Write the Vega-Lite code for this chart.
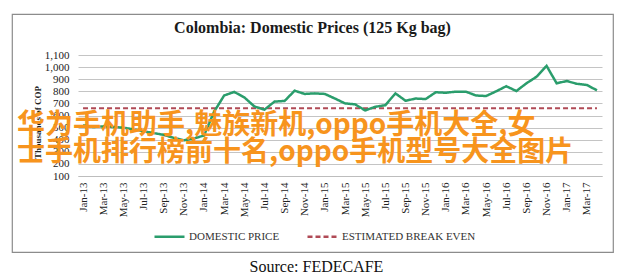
{
  "$schema": "https://vega.github.io/schema/vega-lite/v6.json",
  "width": 601,
  "height": 238,
  "autosize": {"type": "none"},
  "padding": {"left": 12, "top": 14, "right": 9, "bottom": 25},
  "background": "white",
  "config": {
    "view": {"stroke": "#8c8c8c", "strokeWidth": 1.2},
    "font": "Liberation Serif"
  },
  "title": {
    "text": "Colombia: Domestic Prices (125 Kg bag)",
    "font": "Liberation Serif",
    "fontSize": 16,
    "fontWeight": "bold",
    "color": "#1a1a1a",
    "anchor": "middle",
    "frame": "group",
    "baseline": "middle",
    "offset": -16,
    "dy": 14
  },
  "data": {
    "values": [
      {"m": "Jan-13", "p": 520, "b": 660},
      {"m": "Feb-13", "p": 505, "b": 660},
      {"m": "Mar-13", "p": 510, "b": 660},
      {"m": "Apr-13", "p": 505, "b": 660},
      {"m": "May-13", "p": 500, "b": 660},
      {"m": "Jun-13", "p": 485, "b": 660},
      {"m": "Jul-13", "p": 470, "b": 660},
      {"m": "Aug-13", "p": 455, "b": 660},
      {"m": "Sep-13", "p": 440, "b": 660},
      {"m": "Oct-13", "p": 415, "b": 660},
      {"m": "Nov-13", "p": 395, "b": 660},
      {"m": "Dec-13", "p": 410, "b": 660},
      {"m": "Jan-14", "p": 435, "b": 660},
      {"m": "Feb-14", "p": 630, "b": 660},
      {"m": "Mar-14", "p": 765, "b": 660},
      {"m": "Apr-14", "p": 795, "b": 660},
      {"m": "May-14", "p": 750, "b": 660},
      {"m": "Jun-14", "p": 675, "b": 660},
      {"m": "Jul-14", "p": 648, "b": 660},
      {"m": "Aug-14", "p": 715, "b": 660},
      {"m": "Sep-14", "p": 720, "b": 660},
      {"m": "Oct-14", "p": 805, "b": 660},
      {"m": "Nov-14", "p": 778, "b": 660},
      {"m": "Dec-14", "p": 783, "b": 660},
      {"m": "Jan-15", "p": 778, "b": 660},
      {"m": "Feb-15", "p": 740, "b": 660},
      {"m": "Mar-15", "p": 700, "b": 660},
      {"m": "Apr-15", "p": 692, "b": 660},
      {"m": "May-15", "p": 642, "b": 660},
      {"m": "Jun-15", "p": 672, "b": 660},
      {"m": "Jul-15", "p": 685, "b": 660},
      {"m": "Aug-15", "p": 783, "b": 660},
      {"m": "Sep-15", "p": 722, "b": 660},
      {"m": "Oct-15", "p": 740, "b": 660},
      {"m": "Nov-15", "p": 736, "b": 660},
      {"m": "Dec-15", "p": 792, "b": 660},
      {"m": "Jan-16", "p": 788, "b": 660},
      {"m": "Feb-16", "p": 797, "b": 660},
      {"m": "Mar-16", "p": 797, "b": 660},
      {"m": "Apr-16", "p": 765, "b": 660},
      {"m": "May-16", "p": 761, "b": 660},
      {"m": "Jun-16", "p": 800, "b": 660},
      {"m": "Jul-16", "p": 842, "b": 660},
      {"m": "Aug-16", "p": 802, "b": 660},
      {"m": "Sep-16", "p": 866, "b": 660},
      {"m": "Oct-16", "p": 920, "b": 660},
      {"m": "Nov-16", "p": 1010, "b": 660},
      {"m": "Dec-16", "p": 866, "b": 660},
      {"m": "Jan-17", "p": 885, "b": 660},
      {"m": "Feb-17", "p": 862, "b": 660},
      {"m": "Mar-17", "p": 852, "b": 660},
      {"m": "Apr-17", "p": 808, "b": 660}
    ]
  },
  "encoding": {
    "x": {
      "field": "m",
      "type": "ordinal",
      "scale": {
        "type": "point",
        "range": [66, 590],
        "padding": 0.5,
        "domain": ["Jan-13","Feb-13","Mar-13","Apr-13","May-13","Jun-13","Jul-13","Aug-13","Sep-13","Oct-13","Nov-13","Dec-13","Jan-14","Feb-14","Mar-14","Apr-14","May-14","Jun-14","Jul-14","Aug-14","Sep-14","Oct-14","Nov-14","Dec-14","Jan-15","Feb-15","Mar-15","Apr-15","May-15","Jun-15","Jul-15","Aug-15","Sep-15","Oct-15","Nov-15","Dec-15","Jan-16","Feb-16","Mar-16","Apr-16","May-16","Jun-16","Jul-16","Aug-16","Sep-16","Oct-16","Nov-16","Dec-16","Jan-17","Feb-17","Mar-17","Apr-17"]
      },
      "axis": {
        "orient": "bottom",
        "offset": -76,
        "values": ["Jan-13","Mar-13","May-13","Jul-13","Sep-13","Nov-13","Jan-14","Mar-14","May-14","Jul-14","Sep-14","Nov-14","Jan-15","Mar-15","May-15","Jul-15","Sep-15","Nov-15","Jan-16","Mar-16","May-16","Jul-16","Sep-16","Nov-16","Jan-17","Mar-17"],
        "labelAngle": -90,
        "labelPadding": 6,
        "labelFont": "Liberation Serif",
        "labelFontSize": 11,
        "labelColor": "#222222",
        "ticks": false,
        "grid": false,
        "domain": true,
        "domainColor": "#bdbdbd",
        "domainWidth": 1,
        "title": "Source: FEDECAFE",
        "titleFont": "Liberation Serif",
        "titleFontSize": 16,
        "titleFontWeight": "normal",
        "titleColor": "#111111",
        "titleX": 304,
        "titleY": 90,
        "titleAlign": "center",
        "titleBaseline": "middle",
        "titleAngle": 0
      }
    },
    "y": {
      "type": "quantitative",
      "scale": {"domain": [100, 1100], "range": [162, 41], "nice": false, "zero": false},
      "axis": {
        "orient": "left",
        "offset": -66,
        "values": [100, 200, 300, 400, 500, 600, 700, 800, 900, 1000, 1100],
        "format": ",d",
        "labelFont": "Liberation Serif",
        "labelFontSize": 11,
        "labelColor": "#222222",
        "labelPadding": 9,
        "ticks": false,
        "domain": false,
        "grid": true,
        "gridColor": "#c4c4c4",
        "gridWidth": 1,
        "title": "Thousands of COP",
        "titleFont": "Liberation Serif",
        "titleFontSize": 9,
        "titleFontWeight": "bold",
        "titleColor": "#222222",
        "titleX": -41,
        "titleY": 108,
        "titleAngle": -90,
        "titleAlign": "center",
        "titleBaseline": "middle"
      }
    }
  },
  "layer": [
    {
      "mark": {"type": "line", "strokeWidth": 2},
      "encoding": {
        "y": {"field": "b"},
        "color": {
          "datum": "ESTIMATED BREAK EVEN",
          "scale": {"domain": ["DOMESTIC PRICE", "ESTIMATED BREAK EVEN"], "range": ["#2a9d6c", "#b04a56"]},
          "legend": {
            "orient": "none",
            "legendX": 141,
            "legendY": 206,
            "direction": "horizontal",
            "title": null,
            "symbolType": "stroke",
            "symbolSize": 900,
            "symbolStrokeWidth": 2.5,
            "labelFont": "Liberation Serif",
            "labelFontSize": 11,
            "labelColor": "#333333",
            "labelOffset": 3,
            "columnPadding": 22,
            "labelLimit": 300
          }
        },
        "strokeDash": {
          "datum": "ESTIMATED BREAK EVEN",
          "scale": {"domain": ["DOMESTIC PRICE", "ESTIMATED BREAK EVEN"], "range": [[1, 0], [5, 3]]},
          "legend": null
        }
      }
    },
    {
      "mark": {"type": "line", "strokeWidth": 2.5},
      "encoding": {
        "y": {"field": "p"},
        "color": {"datum": "DOMESTIC PRICE"},
        "strokeDash": {"datum": "DOMESTIC PRICE"}
      }
    },
    {
      "data": {
        "values": [
          {"m": "Jan-13", "wy": 517, "t": "华为手机助手,魅族新机,oppo手机大全,女"},
          {"m": "Jan-13", "wy": 290, "t": "士手机排行榜前十名,oppo手机型号大全图片"}
        ]
      },
      "mark": {
        "type": "text",
        "font": "Noto Sans CJK SC",
        "fontWeight": "bold",
        "fontSize": 28,
        "color": "#f7941d",
        "align": "left",
        "baseline": "middle",
        "dx": -66
      },
      "encoding": {
        "y": {"field": "wy"},
        "text": {"field": "t"}
      }
    }
  ]
}
